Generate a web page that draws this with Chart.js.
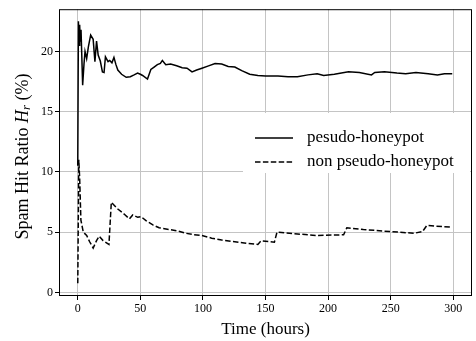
<!DOCTYPE html>
<html><head><meta charset="utf-8">
<script src="https://cdn.jsdelivr.net/npm/chart.js@4"></script>
<style>html,body{margin:0;padding:0;background:#fff}#wrap{width:476px;height:341px}</style>
</head><body><div id="wrap"><canvas id="c" width="476" height="341"></canvas></div>
<script>
const seriesNames = ["pesudo-honeypot", "non pseudo-honeypot"];
const xTicks = [0, 50, 100, 150, 200, 250, 300];
const yTicks = [0, 5, 10, 15, 20];
const timeSolid = [0,0.5,1,1.5,2,2.6,3.9,5,5.8,7.1,8.5,10.3,12.3,13.7,15,16.3,18,19.7,21,22.1,24.2,25.5,27.3,28.9,30.5,32,35,38.7,42,45,47.8,50,51.8,55.7,58.4,61,63.6,66,67.6,70.3,74.2,79,83.4,87.3,91.3,95,99.2,104.5,109.7,115,120.2,125.5,131,137.4,143.9,150,160,168,175.5,184,191.3,196.5,205,216.3,225,234.7,237.3,245,255,262,270.2,280,287.4,293,299.2];
const valSolid = [10.5,22.5,20.5,22.2,20.8,21.8,17.2,19,20,19.4,20.4,21.35,21,19.15,20.85,19.7,19.2,18.3,18.25,19.55,19.15,19.25,19.05,19.5,18.9,18.45,18.1,17.85,17.9,18.05,18.2,18.1,18,17.7,18.5,18.7,18.9,19,19.25,18.9,18.95,18.8,18.65,18.6,18.3,18.45,18.6,18.8,19,18.95,18.75,18.7,18.4,18.1,18,17.95,17.95,17.9,17.9,18.05,18.15,18,18.1,18.3,18.25,18.05,18.25,18.3,18.2,18.15,18.25,18.15,18.05,18.15,18.15];
const timeDashed = [0,0.8,1.5,2.5,4.4,7.1,9.5,12.3,15,17.1,20.2,24.9,26.8,32,37,41.3,43.9,47.9,50.5,54.5,60,65,72.9,80,86,92,99.2,107,115,122.8,133,143.9,146.5,157.1,159.2,175.5,191.3,212.4,215,228.2,249.2,268.9,275.5,278.9,299.2];
const valDashed = [0.75,11,9.5,6,5,4.72,4.2,3.68,4.3,4.67,4.3,3.98,7.47,6.92,6.5,6.1,6.43,6.23,6.29,5.96,5.6,5.36,5.22,5.1,4.91,4.8,4.72,4.5,4.35,4.23,4.1,3.98,4.28,4.17,5,4.85,4.72,4.78,5.36,5.22,5.05,4.91,5.05,5.55,5.41];

const SERIF = '"Liberation Serif", "DejaVu Serif", serif';
const toXY = (xs, ys) => xs.map((x, i) => ({x, y: ys[i]}));

const framePlugin = {
  id: 'frame',
  afterDatasetsDraw(chart) {
    const {ctx, chartArea: a} = chart;
    // legend
    ctx.save();
    const lx = 243, ly = 113, lw = 227, lh = 60;
    ctx.fillStyle = '#fff';
    ctx.fillRect(lx, ly, lw, lh);
    ctx.strokeStyle = '#000';
    ctx.lineWidth = 1.5;
    chart.data.datasets.forEach((ds, i) => {
      const y = 138 + i * 24;
      ctx.setLineDash(ds.borderDash || []);
      ctx.beginPath(); ctx.moveTo(255, y); ctx.lineTo(293, y); ctx.stroke();
      ctx.setLineDash([]);
      ctx.fillStyle = '#000';
      ctx.font = '17px ' + SERIF;
      ctx.textBaseline = 'middle';
      ctx.fillText(ds.label, 307, y);
    });
    ctx.restore();
    // frame
    ctx.save();
    ctx.strokeStyle = '#000';
    ctx.lineWidth = 1;
    ctx.strokeRect(a.left + 0.5, a.top + 0.5, a.right - a.left - 1, a.bottom - a.top - 1);
    ctx.restore();
    // y title
    ctx.save();
    ctx.fillStyle = '#000';
    ctx.translate(23, (a.top + a.bottom) / 2 + 4);
    ctx.rotate(-Math.PI / 2);
    ctx.textBaseline = 'middle';
    const parts = [
      ['Spam Hit Ratio ', '18px ' + SERIF, 0],
      ['H', 'italic 18px ' + SERIF, 0],
      ['r', 'italic 13px ' + SERIF, 4],
      [' (%)', '18px ' + SERIF, 0]
    ];
    let total = 0;
    parts.forEach(p => { ctx.font = p[1]; total += ctx.measureText(p[0]).width; });
    let x = -total / 2;
    parts.forEach(p => { ctx.font = p[1]; ctx.fillText(p[0], x, p[2]); x += ctx.measureText(p[0]).width; });
    ctx.restore();
  }
};

new Chart(document.getElementById('c'), {
  type: 'line',
  data: {
    datasets: [
      {label: seriesNames[0], data: toXY(timeSolid, valSolid), borderColor: '#000', borderWidth: 1.5, pointRadius: 0, tension: 0, fill: false},
      {label: seriesNames[1], data: toXY(timeDashed, valDashed), borderColor: '#000', borderWidth: 1.5, borderDash: [5.5, 2.4], pointRadius: 0, tension: 0, fill: false}
    ]
  },
  options: {
    responsive: false,
    animation: false,
    devicePixelRatio: 1,
    layout: {padding: {top: 7, right: 4, left: 0, bottom: 0}},
    plugins: {legend: {display: false}, tooltip: {enabled: false}},
    scales: {
      x: {
        type: 'linear', min: -15, max: 315,
        afterBuildTicks: s => { s.ticks = xTicks.map(v => ({value: v})); },
        afterFit: s => { s.height = 45; },
        grid: {color: '#c4c4c4', lineWidth: 1, tickColor: '#000', tickLength: 4, drawTicks: true},
        border: {display: false},
        ticks: {color: '#000', font: {family: SERIF, size: 12}, padding: 2, maxRotation: 0},
        title: {display: true, text: 'Time (hours)', color: '#000', font: {family: SERIF, size: 17}, padding: {top: 0, bottom: 1}}
      },
      y: {
        type: 'linear', min: -0.3, max: 23.5,
        afterBuildTicks: s => { s.ticks = yTicks.map(v => ({value: v})); },
        afterFit: s => { s.width = 59; },
        grid: {color: '#c4c4c4', lineWidth: 1, tickColor: '#000', tickLength: 4, drawTicks: true},
        border: {display: false},
        ticks: {color: '#000', font: {family: SERIF, size: 12}, padding: 2}
      }
    }
  },
  plugins: [framePlugin]
});
</script></body></html>
